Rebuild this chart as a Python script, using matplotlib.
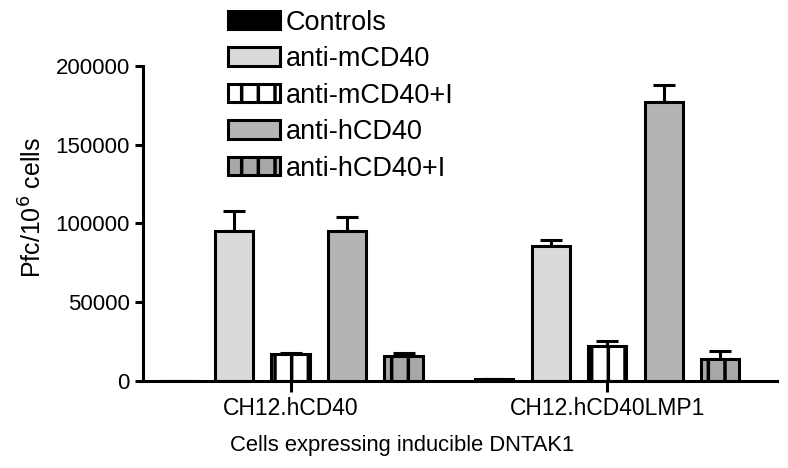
import numpy as np
import matplotlib.pyplot as plt

plt.rcParams['font.family'] = ['Liberation Sans', 'DejaVu Sans']
plt.rcParams['hatch.linewidth'] = 2.5

groups = ['CH12.hCD40', 'CH12.hCD40LMP1']
series = ['Controls', 'anti-mCD40', 'anti-mCD40+I', 'anti-hCD40', 'anti-hCD40+I']
values = {
    'Controls':     [0, 1000],
    'anti-mCD40':   [95000, 86000],
    'anti-mCD40+I': [17000, 22000],
    'anti-hCD40':   [95000, 177000],
    'anti-hCD40+I': [16000, 14000],
}
errors = {
    'Controls':     [0, 0],
    'anti-mCD40':   [13000, 3500],
    'anti-mCD40+I': [1000, 3500],
    'anti-hCD40':   [9000, 11000],
    'anti-hCD40+I': [2000, 5000],
}
colors = ['#000000', '#dadada', '#ffffff', '#b4b4b4', '#a8a8a8']
hatches = [None, None, '|', None, '|']

fig = plt.figure(figsize=(7.88, 4.68), dpi=100)
ax = fig.add_axes([143 / 788, 1 - 381 / 468, (777 - 143) / 788, (381 - 66) / 468])

step = 56 / 314  # spacing between bars, in group units
width = 38 / 314
x = np.arange(len(groups))
for i, s in enumerate(series):
    pos = x + (i - 2) * step
    ax.bar(pos, values[s], width, color=colors[i], edgecolor='black',
           linewidth=2.2, hatch=hatches[i], label=s, zorder=2)
    ax.errorbar(pos, values[s], yerr=[np.zeros(len(groups)), errors[s]],
                fmt='none', ecolor='black', elinewidth=2.2, capsize=8,
                capthick=2.2, zorder=1)

ax.set_xlim(x[0] - 2.5 * step - 0.02, x[-1] + 2.5 * step + 0.09)
ax.set_ylim(0, 200000)
ax.set_yticks([0, 50000, 100000, 150000, 200000])
ax.set_xticks(x)
ax.set_xticklabels(groups, fontsize=16.5)
ax.tick_params(axis='y', labelsize=16, width=2.2, length=6)
ax.tick_params(axis='x', width=2.2, length=8)
for sp in ['top', 'right']:
    ax.spines[sp].set_visible(False)
for sp in ['left', 'bottom']:
    ax.spines[sp].set_linewidth(2.2)
ax.spines['left'].set_bounds(0, 200000)

ax.set_ylabel('Pfc/10$^6$ cells', fontsize=18)
ax.yaxis.set_label_coords(-0.152, 0.55)
ax.set_xlabel('Cells expressing inducible DNTAK1', fontsize=15.8)
ax.xaxis.set_label_coords(0.4085, -0.172)

fig.legend(loc='upper left', bbox_to_anchor=(228 / 788, 1 - 9.5 / 468), frameon=False,
           prop={'size': 19.5}, handlelength=1.93, handleheight=0.67,
           labelspacing=0.39, handletextpad=0.19, borderpad=0, borderaxespad=0)

fig.savefig('out.png', dpi=100)
